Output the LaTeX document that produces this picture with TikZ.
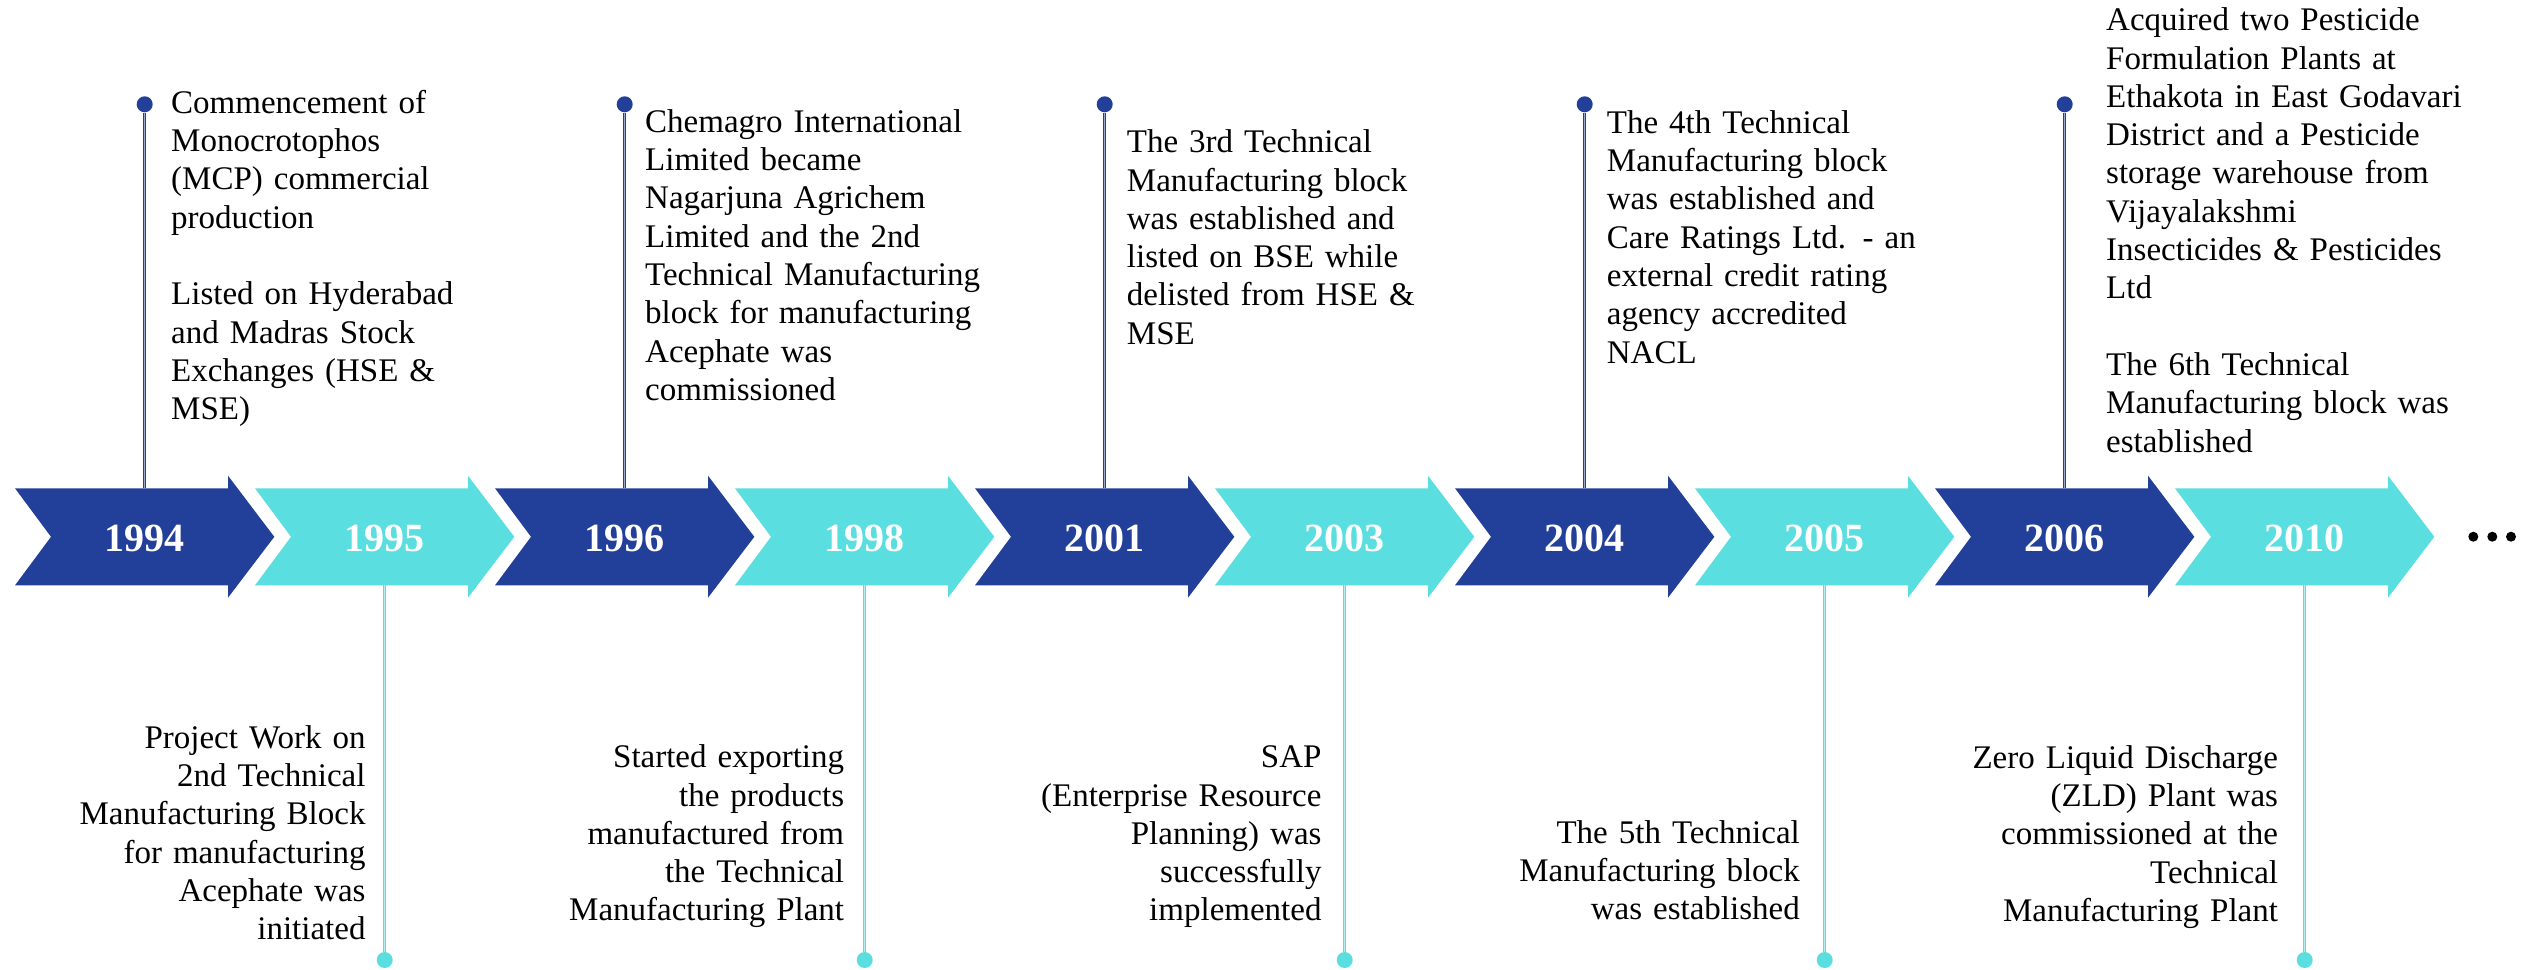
\documentclass[tikz,border=0pt]{standalone}
\usepackage{fontspec}
\setmainfont{Liberation Serif}
\definecolor{navy}{HTML}{223F99}
\definecolor{aqua}{HTML}{5ADEE0}

\tikzset{
    yearlabel/.style={text=white, inner sep=0pt, font=\fontsize{40}{48}\selectfont\bfseries},
    topnote/.style={anchor=base west, align=left, text width=420pt, inner sep=0pt, font=\fontsize{33}{38.3}\selectfont},
    botnote/.style={anchor=base east, align=right, text width=420pt, inner sep=0pt, font=\fontsize{33}{38.3}\selectfont},
    pin/.style={circle, fill=#1, minimum size=16pt, inner sep=0pt},
    stem/.style={draw=#1, line width=1pt, double=#1!45!white, double distance=1.4pt},
}

\begin{document}
\begin{tikzpicture}[x=1pt, y=-1pt]
    \useasboundingbox[fill=white] (0, 0) rectangle (2521, 969);

    % chevrons
    \foreach \yr / \col [count=\i from 0] in {1994/navy, 1995/aqua, 1996/navy, 1998/aqua, 2001/navy, 2003/aqua, 2004/navy, 2005/aqua, 2006/navy, 2010/aqua} {
        \pgfmathsetmacro{\xl}{15+240*\i}
        \fill[\col] (\xl, 488.3) -- (\xl+213, 488.3) -- (\xl+213, 475.7) -- (\xl+259.3, 536.8)
            -- (\xl+213, 597.7) -- (\xl+213, 585.3) -- (\xl, 585.3) -- (\xl+36, 536.8) -- cycle;
        \node[yearlabel] (c\yr) at (\xl+129.7, 538.3) {\yr};
        \coordinate (c\yr-top) at (\xl+129.7, 488.3);
        \coordinate (c\yr-bot) at (\xl+129.7, 585.3);
    }

    % ... after the last one
    \foreach \x in {2473.3, 2492.3, 2511}
        \fill (\x, 536.7) circle (5);

    % top events
    \foreach \yr in {1994, 1996, 2001, 2004, 2006} {
        \node[pin=navy] (p\yr) at (c\yr-top |- 0, 104.3) {};
        \draw[stem=navy] (p\yr) -- (c\yr-top);
    }

    % bottom events
    \foreach \yr in {1995, 1998, 2003, 2005, 2010} {
        \node[pin=aqua] (p\yr) at (c\yr-bot |- 0, 960) {};
        \draw[stem=aqua] (c\yr-bot) -- (p\yr);
    }

    % top texts
    \node[topnote] (n1994) at (171, 113.3) {Commencement of\\Monocrotophos\\(MCP) commercial\\production\\[38.3pt]Listed on Hyderabad\\and Madras Stock\\Exchanges (HSE \&\\MSE)};
    \node[topnote] (n1996) at (645, 132.3) {Chemagro International\\Limited became\\Nagarjuna Agrichem\\Limited and the 2nd\\Technical Manufacturing\\block for manufacturing\\Acephate was\\commissioned};
    \node[topnote] (n2001) at (1126.7, 152.7) {The 3rd Technical\\Manufacturing block\\was established and\\listed on BSE while\\delisted from HSE \&\\MSE};
    \node[topnote] (n2004) at (1606.7, 133.3) {The 4th Technical\\Manufacturing block\\was established and\\Care Ratings Ltd. - an\\external credit rating\\agency accredited\\NACL};
    \node[topnote] (n2006) at (2106, 30.7) {Acquired two Pesticide\\Formulation Plants at\\Ethakota in East Godavari\\District and a Pesticide\\storage warehouse from\\Vijayalakshmi\\Insecticides \& Pesticides\\Ltd\\[38.3pt]The 6th Technical\\Manufacturing block was\\established};

    % bottom texts
    \node[botnote] (n1995) at (365.7, 748.3) {Project Work on\\2nd Technical\\Manufacturing Block\\for manufacturing\\Acephate was\\initiated};
    \node[botnote] (n1998) at (844.3, 767.7) {Started exporting\\the products\\manufactured from\\the Technical\\Manufacturing Plant};
    \node[botnote] (n2003) at (1321.7, 767.7) {SAP\\(Enterprise Resource\\Planning) was\\successfully\\implemented};
    \node[botnote] (n2005) at (1800, 843.3) {The 5th Technical\\Manufacturing block\\was established};
    \node[botnote] (n2010) at (2278.2, 768.3) {Zero Liquid Discharge\\(ZLD) Plant was\\commissioned at the\\Technical\\Manufacturing Plant};
\end{tikzpicture}
\end{document}
